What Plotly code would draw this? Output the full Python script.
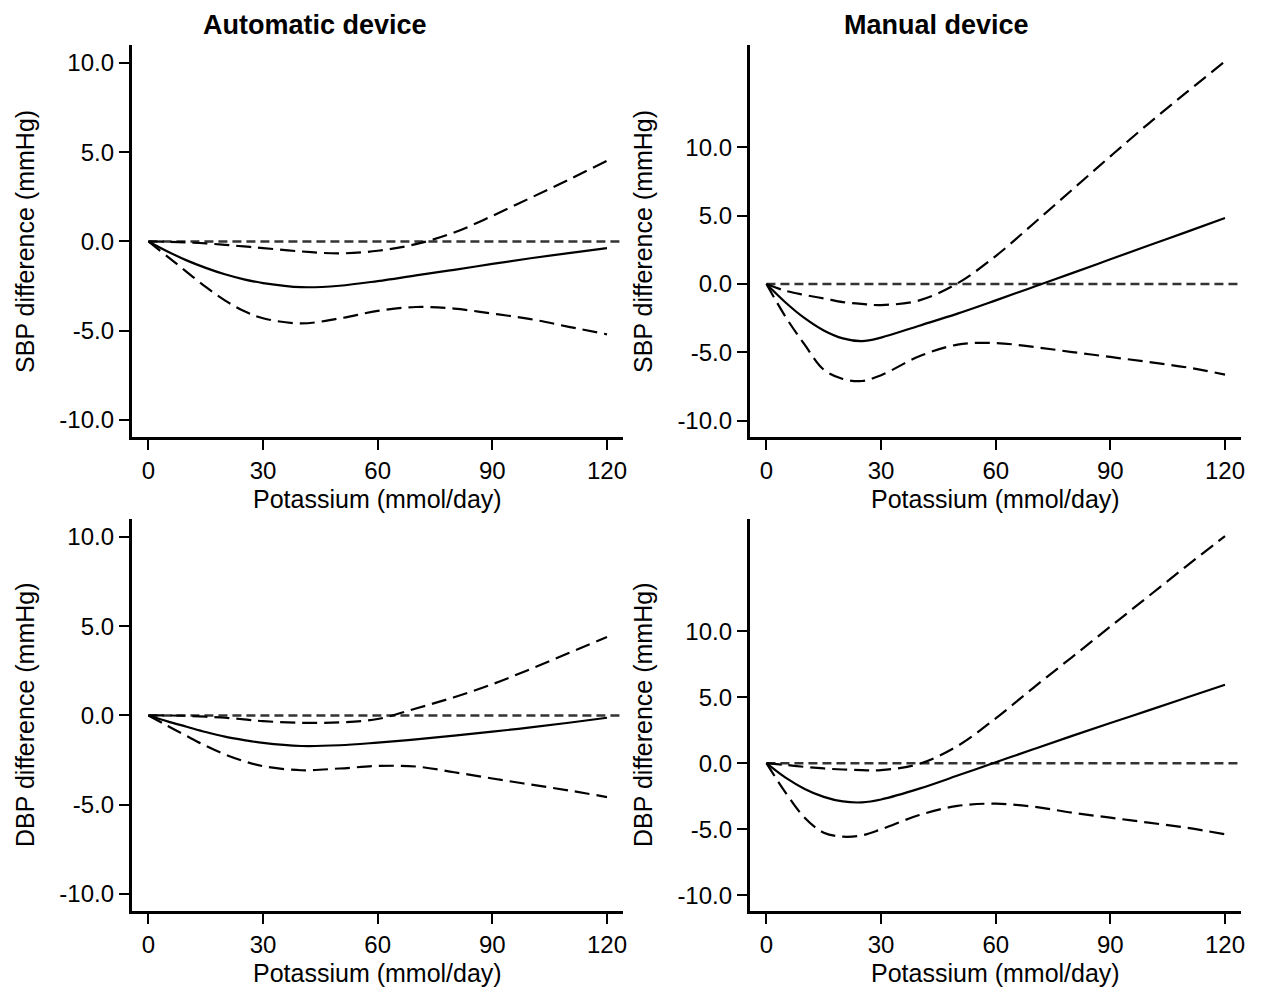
import plotly.graph_objects as go

# potassium intake (mmol/day) at which the curves were read
potassium = [0, 5, 10, 15, 20, 25, 30, 40, 50, 60, 70, 80, 90, 100, 110, 120]

# automatic device, SBP
auto_sbp = [0, -0.56, -1.06, -1.48, -1.84, -2.12, -2.33, -2.56, -2.48, -2.22, -1.9, -1.59, -1.26, -0.94, -0.65, -0.37]
auto_sbp_hi = [0, -0.02, -0.06, -0.11, -0.19, -0.28, -0.37, -0.56, -0.67, -0.52, -0.15, 0.5, 1.43, 2.44, 3.46, 4.52]
auto_sbp_lo = [0, -0.85, -1.7, -2.55, -3.3, -3.9, -4.3, -4.59, -4.31, -3.89, -3.67, -3.76, -4.04, -4.35, -4.78, -5.2]

# manual device, SBP
man_sbp = [0, -1.35, -2.5, -3.4, -3.98, -4.18, -3.92, -3.05, -2.17, -1.2, -0.2, 0.8, 1.81, 2.82, 3.82, 4.83]
man_sbp_hi = [0, -0.5, -0.8, -1.05, -1.32, -1.46, -1.54, -1.2, 0.05, 2.05, 4.45, 6.9, 9.35, 11.75, 14.05, 16.3]
man_sbp_lo = [0, -2.4, -4.44, -6.27, -6.95, -7.1, -6.68, -5.29, -4.44, -4.32, -4.61, -4.98, -5.34, -5.71, -6.1, -6.63]

# automatic device, DBP
auto_dbp = [0, -0.33, -0.63, -0.93, -1.19, -1.38, -1.54, -1.71, -1.67, -1.52, -1.34, -1.13, -0.91, -0.67, -0.41, -0.13]
auto_dbp_hi = [0, 0, -0.02, -0.07, -0.13, -0.22, -0.32, -0.41, -0.39, -0.2, 0.39, 1.02, 1.75, 2.6, 3.5, 4.39]
auto_dbp_lo = [0, -0.58, -1.15, -1.7, -2.18, -2.56, -2.84, -3.07, -2.97, -2.83, -2.86, -3.18, -3.53, -3.87, -4.2, -4.57]

# manual device, DBP
man_dbp = [0, -1.1, -1.95, -2.55, -2.9, -2.97, -2.75, -1.93, -0.94, 0.07, 1.07, 2.07, 3.04, 4.0, 4.97, 5.94]
man_dbp_hi = [0, -0.13, -0.28, -0.4, -0.48, -0.53, -0.53, -0.05, 1.3, 3.4, 5.75, 8.04, 10.35, 12.65, 14.95, 17.2]
man_dbp_lo = [0, -2.23, -4.13, -5.27, -5.57, -5.47, -5.01, -3.93, -3.24, -3.07, -3.3, -3.75, -4.13, -4.51, -4.89, -5.39]

x_ticks = [0, 30, 60, 90, 120]
y_ticks = [-10, -5, 0, 5, 10]
y_tick_labels = ["-10.0", "-5.0", "0.0", "5.0", "10.0"]

col_titles = ["Automatic device", "Manual device"]
x_title = "Potassium (mmol/day)"
y_titles = ["SBP difference (mmHg)", "DBP difference (mmHg)"]

FONT = "Liberation Sans, Arial, Helvetica, sans-serif"
X_RANGE = [-4.4, 124.2]

# the page puts an 8px margin round the figure, so size it to fit the window
PAD = 8
W, H = 1263 - PAD, 988 - PAD


def px_x(p):
    return (p - PAD) / W


def px_y(p):
    return 1 - (p - PAD) / H


# (axis suffix, estimate, upper, lower, y range)
panels = [
    ("", auto_sbp, auto_sbp_hi, auto_sbp_lo, [-10.95, 11.0]),
    ("2", man_sbp, man_sbp_hi, man_sbp_lo, [-11.2, 17.5]),
    ("3", auto_dbp, auto_dbp_hi, auto_dbp_lo, [-10.95, 11.0]),
    ("4", man_dbp, man_dbp_hi, man_dbp_lo, [-11.2, 18.5]),
]

x_domains = [[px_x(132), px_x(625)], [px_x(752), px_x(1245)]]
y_domains = [[px_y(437), px_y(45)], [px_y(911), px_y(519)]]

fig = go.Figure()
layout = dict(
    width=W,
    height=H,
    margin=dict(l=0, r=0, t=0, b=0),
    paper_bgcolor="white",
    plot_bgcolor="white",
    showlegend=False,
    font=dict(family=FONT, size=24, color="black"),
)
annotations = []

for i, (sfx, est, hi, lo, yr) in enumerate(panels):
    row, col = divmod(i, 2)
    xa, ya = "x" + sfx, "y" + sfx
    # reference line at zero
    fig.add_trace(go.Scatter(
        x=[0, X_RANGE[1]], y=[0, 0], xaxis=xa, yaxis=ya, mode="lines",
        line=dict(color="#333333", width=2.5, dash="9px,5px"), hoverinfo="skip",
    ))
    for ys, dash in [(hi, "15px,7px"), (lo, "15px,7px"), (est, "solid")]:
        fig.add_trace(go.Scatter(
            x=potassium, y=ys, xaxis=xa, yaxis=ya, mode="lines",
            line=dict(color="black", width=2.2, dash=dash, shape="spline", smoothing=1.0),
        ))
    axis_common = dict(
        showline=True, linecolor="black", linewidth=2.5, showgrid=False, zeroline=False,
        ticks="outside", ticklen=10, tickwidth=2, tickcolor="black",
        tickfont=dict(family=FONT, size=24, color="black"),
    )
    layout["xaxis" + sfx] = dict(
        axis_common, domain=x_domains[col], range=X_RANGE, anchor=ya,
        tickvals=x_ticks, ticktext=[str(t) for t in x_ticks],
    )
    layout["yaxis" + sfx] = dict(
        axis_common, domain=y_domains[row], range=yr, anchor=xa,
        tickvals=y_ticks, ticktext=y_tick_labels,
    )
    annotations.append(dict(
        text=x_title, xref=xa + " domain", yref=ya + " domain", x=0.5, y=-62 / 392,
        showarrow=False, xanchor="center", yanchor="middle", font=dict(size=25),
    ))
    annotations.append(dict(
        text=y_titles[row], xref="paper", yref=ya + " domain",
        x=px_x(25 if col == 0 else 645), y=0.5, textangle=-90,
        showarrow=False, xanchor="center", yanchor="middle", font=dict(size=25),
    ))

for col, t in enumerate(col_titles):
    annotations.append(dict(
        text="<b>" + t + "</b>", xref="paper", yref="paper",
        x=px_x(316 if col == 0 else 939), y=px_y(25),
        showarrow=False, xanchor="center", yanchor="middle", font=dict(size=27),
    ))

layout["annotations"] = annotations
fig.update_layout(**layout)
fig.write_html("out.html")
